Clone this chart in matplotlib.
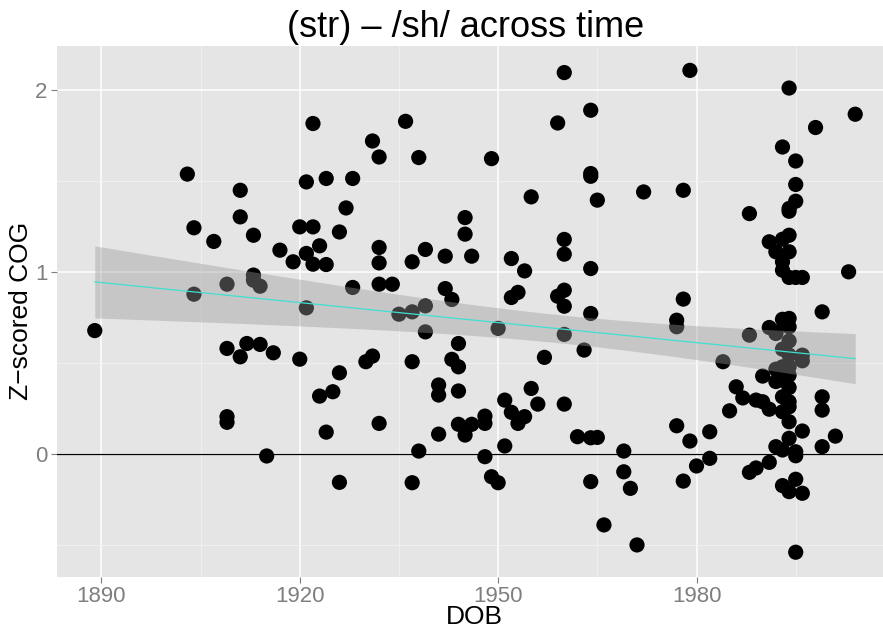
import numpy as np
import matplotlib
matplotlib.use("Agg")
import matplotlib.pyplot as plt

plt.rcParams['font.family'] = ['Liberation Sans', 'DejaVu Sans']

title = "(str) \u2013 /sh/ across time"
xlabel = "DOB"
ylabel = "Z\u2212scored COG"
xticks = [1890, 1920, 1950, 1980]
yticks = [0, 1, 2]

# data: (year, values)
points_by_year = [
    (1889, [0.68]),
    (1903, [1.54]),
    (1904, [1.245, 0.88]),
    (1907, [1.17]),
    (1909, [0.935, 0.582, 0.207, 0.176]),
    (1911, [1.451, 1.305, 0.536]),
    (1912, [0.609]),
    (1913, [1.204, 0.985, 0.957]),
    (1914, [0.924, 0.604]),
    (1915, [-0.009]),
    (1916, [0.558]),
    (1917, [1.122]),
    (1919, [1.058]),
    (1920, [1.25, 0.523]),
    (1921, [1.497, 1.104, 0.805]),
    (1922, [1.818, 1.25, 1.045]),
    (1923, [1.146, 0.32]),
    (1924, [1.516, 1.043, 0.122]),
    (1925, [0.344]),
    (1926, [1.222, 0.448, -0.154]),
    (1927, [1.354]),
    (1928, [1.516, 0.917]),
    (1930, [0.509]),
    (1931, [1.722, 0.540]),
    (1932, [1.634, 1.137, 1.052, 0.935, 0.170]),
    (1934, [0.935]),
    (1935, [0.770]),
    (1936, [1.830]),
    (1937, [1.058, 0.783, 0.509, -0.156]),
    (1938, [1.631, 0.018]),
    (1939, [1.126, 0.816, 0.673]),
    (1941, [0.381, 0.326, 0.111]),
    (1942, [1.089, 0.911]),
    (1943, [0.851, 0.522]),
    (1944, [0.609, 0.481, 0.348, 0.165]),
    (1945, [1.301, 1.210, 0.106]),
    (1946, [1.089, 0.165]),
    (1948, [0.210, 0.170, -0.013]),
    (1949, [1.625, -0.123]),
    (1950, [0.692, -0.156]),
    (1951, [0.298, 0.046]),
    (1952, [1.076, 0.862, 0.231]),
    (1953, [0.890, 0.170]),
    (1954, [1.008, 0.207]),
    (1955, [1.415, 0.362]),
    (1956, [0.276]),
    (1957, [0.533]),
    (1959, [1.821, 0.869]),
    (1960, [2.098, 1.181, 1.100, 0.902, 0.814, 0.659, 0.276]),
    (1962, [0.097]),
    (1963, [0.573]),
    (1964, [1.891, 1.543, 1.528, 1.021, 0.774, 0.091, -0.150]),
    (1965, [1.397, 0.093]),
    (1966, [-0.388]),
    (1969, [0.018, -0.096]),
    (1970, [-0.187]),
    (1971, [-0.498]),
    (1972, [1.442]),
    (1977, [0.737, 0.701, 0.157]),
    (1978, [1.451, 0.853, -0.147]),
    (1979, [2.110, 0.073]),
    (1980, [-0.064]),
    (1982, [0.124, -0.022]),
    (1984, [0.509]),
    (1985, [0.239]),
    (1986, [0.371]),
    (1987, [0.31]),
    (1988, [1.323, 0.655, -0.099]),
    (1989, [0.298, -0.075]),
    (1990, [0.43, 0.289]),
    (1991, [1.168, 0.697, 0.248, -0.044]),
    (1992, [1.113, 0.664, 0.468, 0.042, 0.673, 0.40]),
    (1993, [1.689, 1.182, 1.058, 1.012, 0.742, 0.578, 0.481, 0.408, 0.316, 0.234, 0.024, -0.172]),
    (1994, [2.013, 1.351, 1.336, 1.204, 1.113, 0.972, 0.747, 0.701, 0.623, 0.545, 0.481, 0.435,
            0.367, 0.289, 0.261, 0.179, 0.088, -0.205]),
    (1995, [1.612, 1.483, 1.391, 0.972, 0.014, -0.008, -0.137, -0.538]),
    (1996, [0.972, 0.545, 0.514, 0.128, -0.214]),
    (1998, [1.796]),
    (1999, [0.783, 0.316, 0.243, 0.042]),
    (2001, [0.100]),
    (2003, [1.003]),
    (2004, [1.869]),
]

dob = np.array([yr for yr, vals in points_by_year for _ in vals], dtype=float)
cog = np.array([v for yr, vals in points_by_year for v in vals], dtype=float)

# linear fit with 95% confidence band
n = len(dob)
b1, b0 = np.polyfit(dob, cog, 1)
resid = cog - (b0 + b1 * dob)
s = np.sqrt(np.sum(resid ** 2) / (n - 2))
xbar = dob.mean()
sxx = np.sum((dob - xbar) ** 2)
xs = np.linspace(dob.min(), dob.max(), 80)
fit = b0 + b1 * xs
se = s * np.sqrt(1.0 / n + (xs - xbar) ** 2 / sxx)
tq = 1.97
lo, hi = fit - tq * se, fit + tq * se

W, H = 883, 627
fig = plt.figure(figsize=(W / 100, H / 100), dpi=100)
L, R, T, B = 57, 883, 46, 576.7
ax = fig.add_axes([L / W, (H - B) / H, (R - L) / W, (B - T) / H])
ax.set_facecolor('#E5E5E5')
for sp in ax.spines.values():
    sp.set_visible(False)

ax.set_xlim(1883.29, 2008.2)
ax.set_ylim(-0.6725, 2.244)
ax.set_xticks(xticks)
ax.set_xticks([1905, 1935, 1965, 1995], minor=True)
ax.set_yticks(yticks)
ax.set_yticks([-0.5, 0.5, 1.5], minor=True)
ax.grid(which='major', color='white', linewidth=1.1)
ax.grid(which='minor', color='#F2F2F2', linewidth=0.6)
ax.set_axisbelow(True)
ax.tick_params(which='major', length=4, width=0.8, color='#7F7F7F', labelcolor='#7F7F7F',
               labelsize=16, pad=3)
ax.tick_params(which='minor', length=0)

ax.scatter(dob, cog, s=120, color='black', edgecolors='none', zorder=3)
ax.axhline(0, color='black', linewidth=0.9, zorder=3.5)
ax.fill_between(xs, lo, hi, color='#999999', alpha=0.4, linewidth=0, zorder=4)
ax.plot(xs, fit, color='#3FE0D0', linewidth=0.9, zorder=5)

fig.text(474 / W, 1 - 623.5 / H, xlabel, fontsize=19, ha='center', va='baseline')
fig.text(21 / W, 1 - 311 / H, ylabel, fontsize=19, ha='center', va='center', rotation=90)
fig.text(466 / W, 1 - 37 / H, title, fontsize=26, ha='center', va='baseline')

fig.savefig('out.png', dpi=100)
